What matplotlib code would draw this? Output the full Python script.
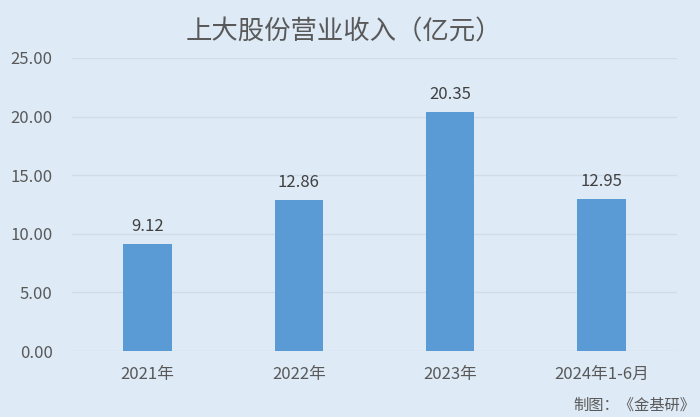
import matplotlib
matplotlib.use("Agg")
import matplotlib.pyplot as plt

plt.rcParams['font.family'] = ['Noto Sans CJK SC', 'DejaVu Sans']

categories = ["2021年", "2022年", "2023年", "2024年1-6月"]
values = [9.12, 12.86, 20.35, 12.95]
yticks = [0, 5, 10, 15, 20, 25]

bg = "#DEEAF6"
txt = "#595959"

fig = plt.figure(figsize=(7.0, 4.17), dpi=100, facecolor=bg)
ax = fig.add_axes([72/700, 1-351/417, 605/700, (351-58)/417], facecolor=bg)

x = range(len(categories))
ax.bar(x, values, width=0.32, color="#5B9BD5", zorder=3)
for xi, v in zip(x, values):
    ax.text(xi, v + 0.8, f"{v:.2f}", ha="center", va="bottom", fontsize=12, color="#404040")

ax.set_xlim(-0.5, len(categories) - 0.5)
ax.set_ylim(0, 25)
ax.set_yticks(yticks)
ax.set_yticklabels([f"{t:.2f}" for t in yticks], fontsize=12, color=txt)
ax.set_xticks(list(x))
ax.set_xticklabels(categories, fontsize=12, color=txt)
ax.tick_params(axis="both", length=0)
ax.tick_params(axis="y", pad=14)
ax.tick_params(axis="x", pad=11)
ax.grid(axis="y", color="#CFDCEA", linewidth=1, zorder=0)
for s in ax.spines.values():
    s.set_visible(False)

fig.text(344/700, 1-32/417, "上大股份营业收入（亿元）", ha="center", va="center",
         fontsize=19, color=txt, fontweight="light")
fig.text(695/700, 1-405/417, "制图：《金基研》", ha="right", va="center", fontsize=11, color=txt)

fig.savefig("out.png", dpi=100, facecolor=bg)
